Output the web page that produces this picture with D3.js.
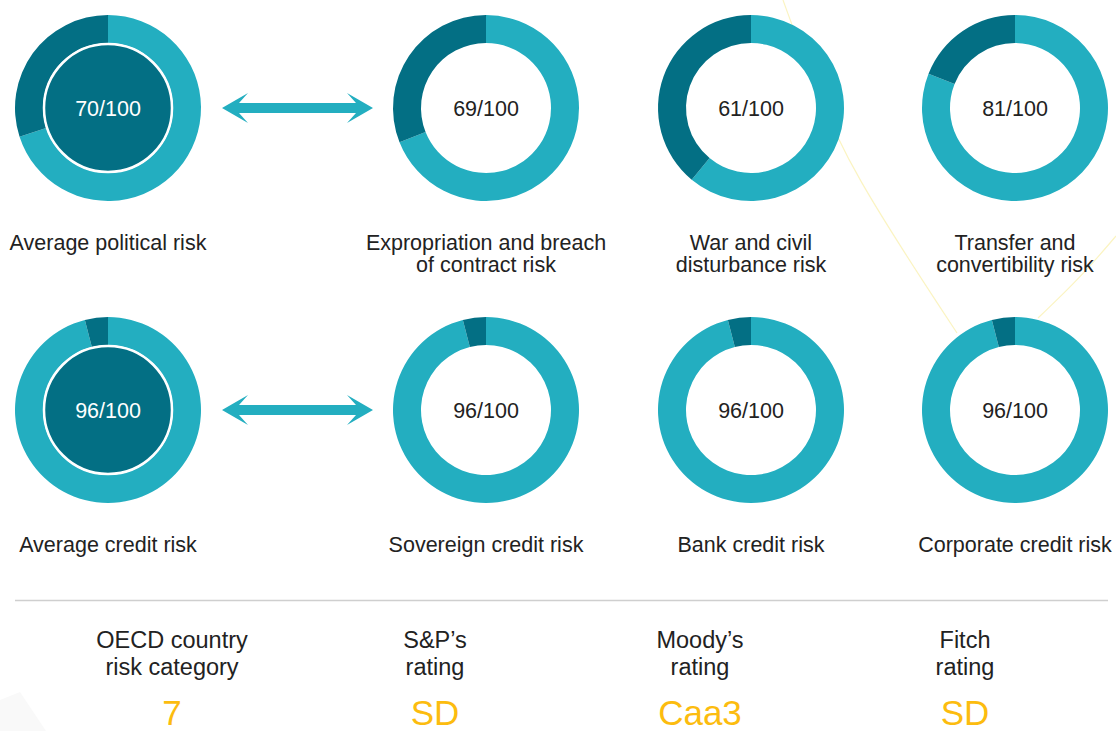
<!DOCTYPE html>
<html>
<head>
<meta charset="utf-8">
<script src="https://cdn.jsdelivr.net/npm/d3@7"></script>
<style>
  body { margin: 0; background: #fff; }
  svg { display: block; font-family: "Liberation Sans", Arial, Helvetica, sans-serif; }
</style>
</head>
<body>
<div id="chart"></div>
<script>
// data
var politicalLabels = [["Average political risk"], ["Expropriation and breach", "of contract risk"], ["War and civil", "disturbance risk"], ["Transfer and", "convertibility risk"]];
var politicalScores = [70, 69, 61, 81];

var creditLabels = [["Average credit risk"], ["Sovereign credit risk"], ["Bank credit risk"], ["Corporate credit risk"]];
var creditScores = [96, 96, 96, 96];

var ratingLabels = [["OECD country", "risk category"], ["S&P\u2019s", "rating"], ["Moody\u2019s", "rating"], ["Fitch", "rating"]];
var ratingValues = ["7", "SD", "Caa3", "SD"];

var maxScore = 100;

var width = 1116, height = 731;
var light = "#23aec0", dark = "#036f84";

var svg = d3.select("#chart").append("svg")
    .attr("width", width)
    .attr("height", height);

// background decoration
svg.append("path")
    .attr("d", "M0,700 L20,692 L46,731 L0,731 Z")
    .attr("fill", "#f9f9f9");
var deco = d3.line().curve(d3.curveBasis);
svg.append("path")
    .attr("d", deco([[783, 0], [812, 80], [850, 170], [957, 333]]))
    .attr("fill", "none").attr("stroke", "#fbf4c2").attr("stroke-width", 1.2);
svg.append("path")
    .attr("d", deco([[1116, 236], [1080, 278], [1038, 318]]))
    .attr("fill", "none").attr("stroke", "#fbf4c2").attr("stroke-width", 1.2);

// column positions
var colX = d3.scaleOrdinal().domain([0, 1, 2, 3]).range([108, 486, 751, 1015]);
var rowY = [108, 410];
var outerR = 93, innerR = 65;

var arc = d3.arc().innerRadius(innerR).outerRadius(outerR);
var pie = d3.pie().sort(null).value(d => d);

function drawRow(scores, labels, cy, labelY) {
    scores.forEach(function(s, i) {
        var g = svg.append("g").attr("transform", "translate(" + colX(i) + "," + cy + ")");
        g.selectAll("path")
            .data(pie([s, maxScore - s]))
            .join("path")
            .attr("d", arc)
            .attr("fill", (d, j) => j == 0 ? light : dark);
        if (i == 0) {
            g.append("circle")
                .attr("r", innerR - 1)
                .attr("fill", dark)
                .attr("stroke", "#fff")
                .attr("stroke-width", 2.5);
        }
        g.append("text")
            .attr("text-anchor", "middle")
            .attr("y", 7.5)
            .attr("font-size", 21.5)
            .attr("fill", i == 0 ? "#fff" : "#222")
            .text(s + "/" + maxScore);

        var t = svg.append("text")
            .attr("text-anchor", "middle")
            .attr("font-size", 21.5)
            .attr("fill", "#222");
        labels[i].forEach(function(line, k) {
            t.append("tspan")
                .attr("x", colX(i))
                .attr("y", labelY + k * 22)
                .text(line);
        });
    });

    // double arrow between first and second donut
    var ay = cy;
    var x0 = 222, x1 = 373;
    var pts = [
        [x0, ay], [x0 + 26, ay - 15], [x0 + 17, ay - 5],
        [x1 - 17, ay - 5], [x1 - 26, ay - 15], [x1, ay],
        [x1 - 26, ay + 15], [x1 - 17, ay + 5],
        [x0 + 17, ay + 5], [x0 + 26, ay + 15]
    ];
    svg.append("polygon")
        .attr("points", pts.map(p => p.join(",")).join(" "))
        .attr("fill", light);
}

drawRow(politicalScores, politicalLabels, rowY[0], 250);
drawRow(creditScores, creditLabels, rowY[1], 552);

// separator
svg.append("line")
    .attr("x1", 15).attr("x2", 1108)
    .attr("y1", 600.5).attr("y2", 600.5)
    .attr("stroke", "#cfcfcf").attr("stroke-width", 1.5);

var ratX = d3.scaleOrdinal().domain([0, 1, 2, 3]).range([172, 435, 700, 965]);

ratingLabels.forEach(function(lines, i) {
    var t = svg.append("text")
        .attr("text-anchor", "middle")
        .attr("font-size", 23.5)
        .attr("fill", "#222");
    lines.forEach(function(line, k) {
        t.append("tspan")
            .attr("x", ratX(i))
            .attr("y", 648 + k * 27)
            .text(line);
    });
    svg.append("text")
        .attr("text-anchor", "middle")
        .attr("x", ratX(i))
        .attr("y", 725)
        .attr("font-size", 35)
        .attr("fill", "#fcbc0f")
        .text(ratingValues[i]);
});
</script>
</body>
</html>
